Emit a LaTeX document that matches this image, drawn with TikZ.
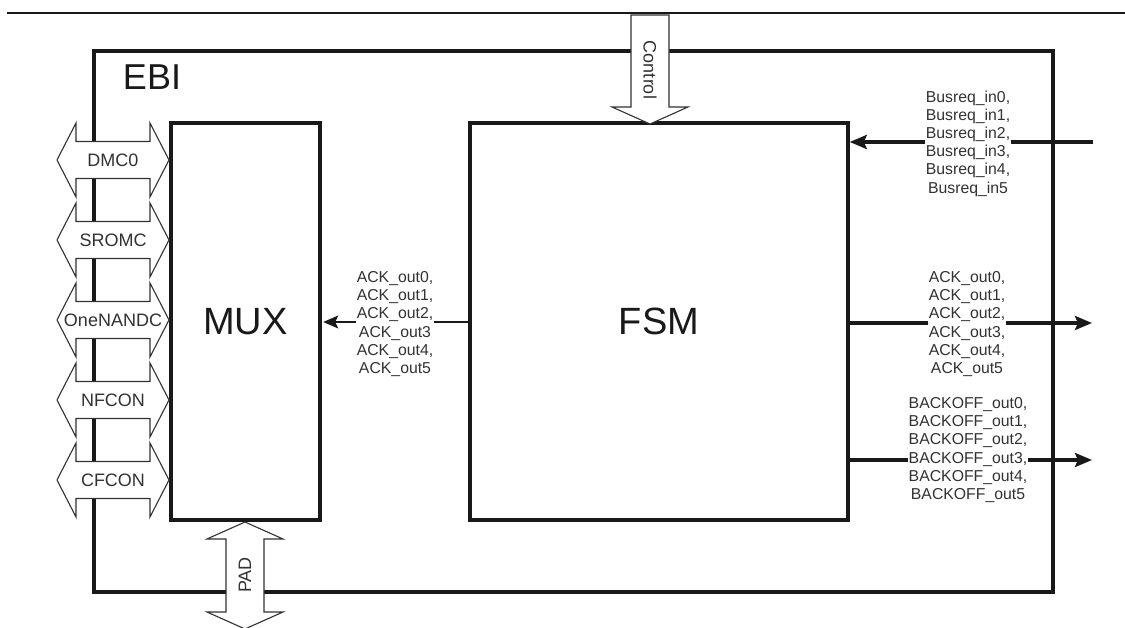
\documentclass[tikz,border=0pt]{standalone}
\usepackage{fontspec}
\setmainfont{Liberation Sans}
\usepackage{xcolor}
\usetikzlibrary{arrows.meta, positioning}
\definecolor{ink}{RGB}{25,25,25}
\definecolor{txt}{RGB}{50,50,50}

\begin{document}
\begin{tikzpicture}[x=1pt, y=-1pt,
    blk/.style={draw=ink, line width=3.5pt},
    port/.style={draw=txt, line width=1.1pt, fill=white},
    plab/.style={text=txt, inner sep=0pt, font=\fontsize{18}{20}\selectfont},
    sig/.style={text=txt, align=center, fill=white, inner sep=1pt,
                font=\fontsize{15.8}{18.2}\selectfont},
    bus/.style={ink, line width=3.5pt, -{Stealth[length=17pt, width=14pt, inset=3pt]}}]
  \useasboundingbox (0,0) rectangle (1125,628);
  \draw[ink, line width=1.4pt] (7,13) -- (1125,13);
  % EBI frame
  \draw[blk] (94,51) rectangle (1053,592);
  \node[text=ink, font=\fontsize{36}{40}\selectfont] (ebi) at (152,77.5) {EBI};
  \node[blk, minimum width=149pt, minimum height=397pt, text=ink,
        font=\fontsize{38}{40}\selectfont] (mux) at (245.5,321.5) {MUX};
  \node[blk, minimum width=378pt, minimum height=397pt, text=ink,
        font=\fontsize{38}{40}\selectfont] (fsm) at (659,321.5) {FSM};
  % memory controllers
  \foreach \cy/\lab/\nm in {160/DMC0/dmc, 240/SROMC/sromc, 320/OneNANDC/onenand,
                            400/NFCON/nfcon, 480/CFCON/cfcon}{
    \draw[port] (57,\cy) -- ++(19,-37) -- ++(0,18.5) -- ++(74,0) -- ++(0,-18.5)
      -- ++(19,37) -- ++(-19,37) -- ++(0,-18.5) -- ++(-74,0) -- ++(0,18.5) -- cycle;
    \node[plab] (\nm) at (113,\cy) {\lab};
  }
  % PAD and Control
  \draw[port] (245,522) -- (283,539) -- (264,539) -- (264,612) -- (283,612)
    -- (245,629) -- (207,612) -- (226,612) -- (226,539) -- (207,539) -- cycle;
  \node[plab, rotate=90] (pad) at (245,575) {PAD};
  \draw[port] (631,15) -- (669,15) -- (669,107) -- (688,107) -- (650,124)
    -- (612,107) -- (631,107) -- cycle;
  \node[plab, rotate=-90] (ctrl) at (650,70) {Control};
  % signals
  \coordinate (bin) at (1093,142);
  \coordinate (aout) at (1092,323);
  \coordinate (bout) at (1092,460);
  \coordinate (amid) at (395,322);
  \draw[bus] (bin) -- (bin -| fsm.east);
  \draw[bus] (aout -| fsm.east) -- (aout);
  \draw[bus] (bout -| fsm.east) -- (bout);
  \draw[ink, line width=1.5pt, -{Stealth[length=15pt, width=13pt, inset=3pt]}]
    (amid -| fsm.west) -- ([xshift=1.5pt]amid -| mux.east);
  \node[sig] (busreq) at (968,143.5) {Busreq\_in0,\\Busreq\_in1,\\Busreq\_in2,\\
    Busreq\_in3,\\Busreq\_in4,\\Busreq\_in5};
  \node[sig] (ackr) at (967,324) {ACK\_out0,\\ACK\_out1,\\ACK\_out2,\\
    ACK\_out3,\\ACK\_out4,\\ACK\_out5};
  \node[sig] (ackl) at (395,324) {ACK\_out0,\\ACK\_out1,\\ACK\_out2,\\
    ACK\_out3\\ACK\_out4,\\ACK\_out5};
  \node[sig] (backoff) at (968,450) {BACKOFF\_out0,\\BACKOFF\_out1,\\BACKOFF\_out2,\\
    BACKOFF\_out3,\\BACKOFF\_out4,\\BACKOFF\_out5};
\end{tikzpicture}
\end{document}
